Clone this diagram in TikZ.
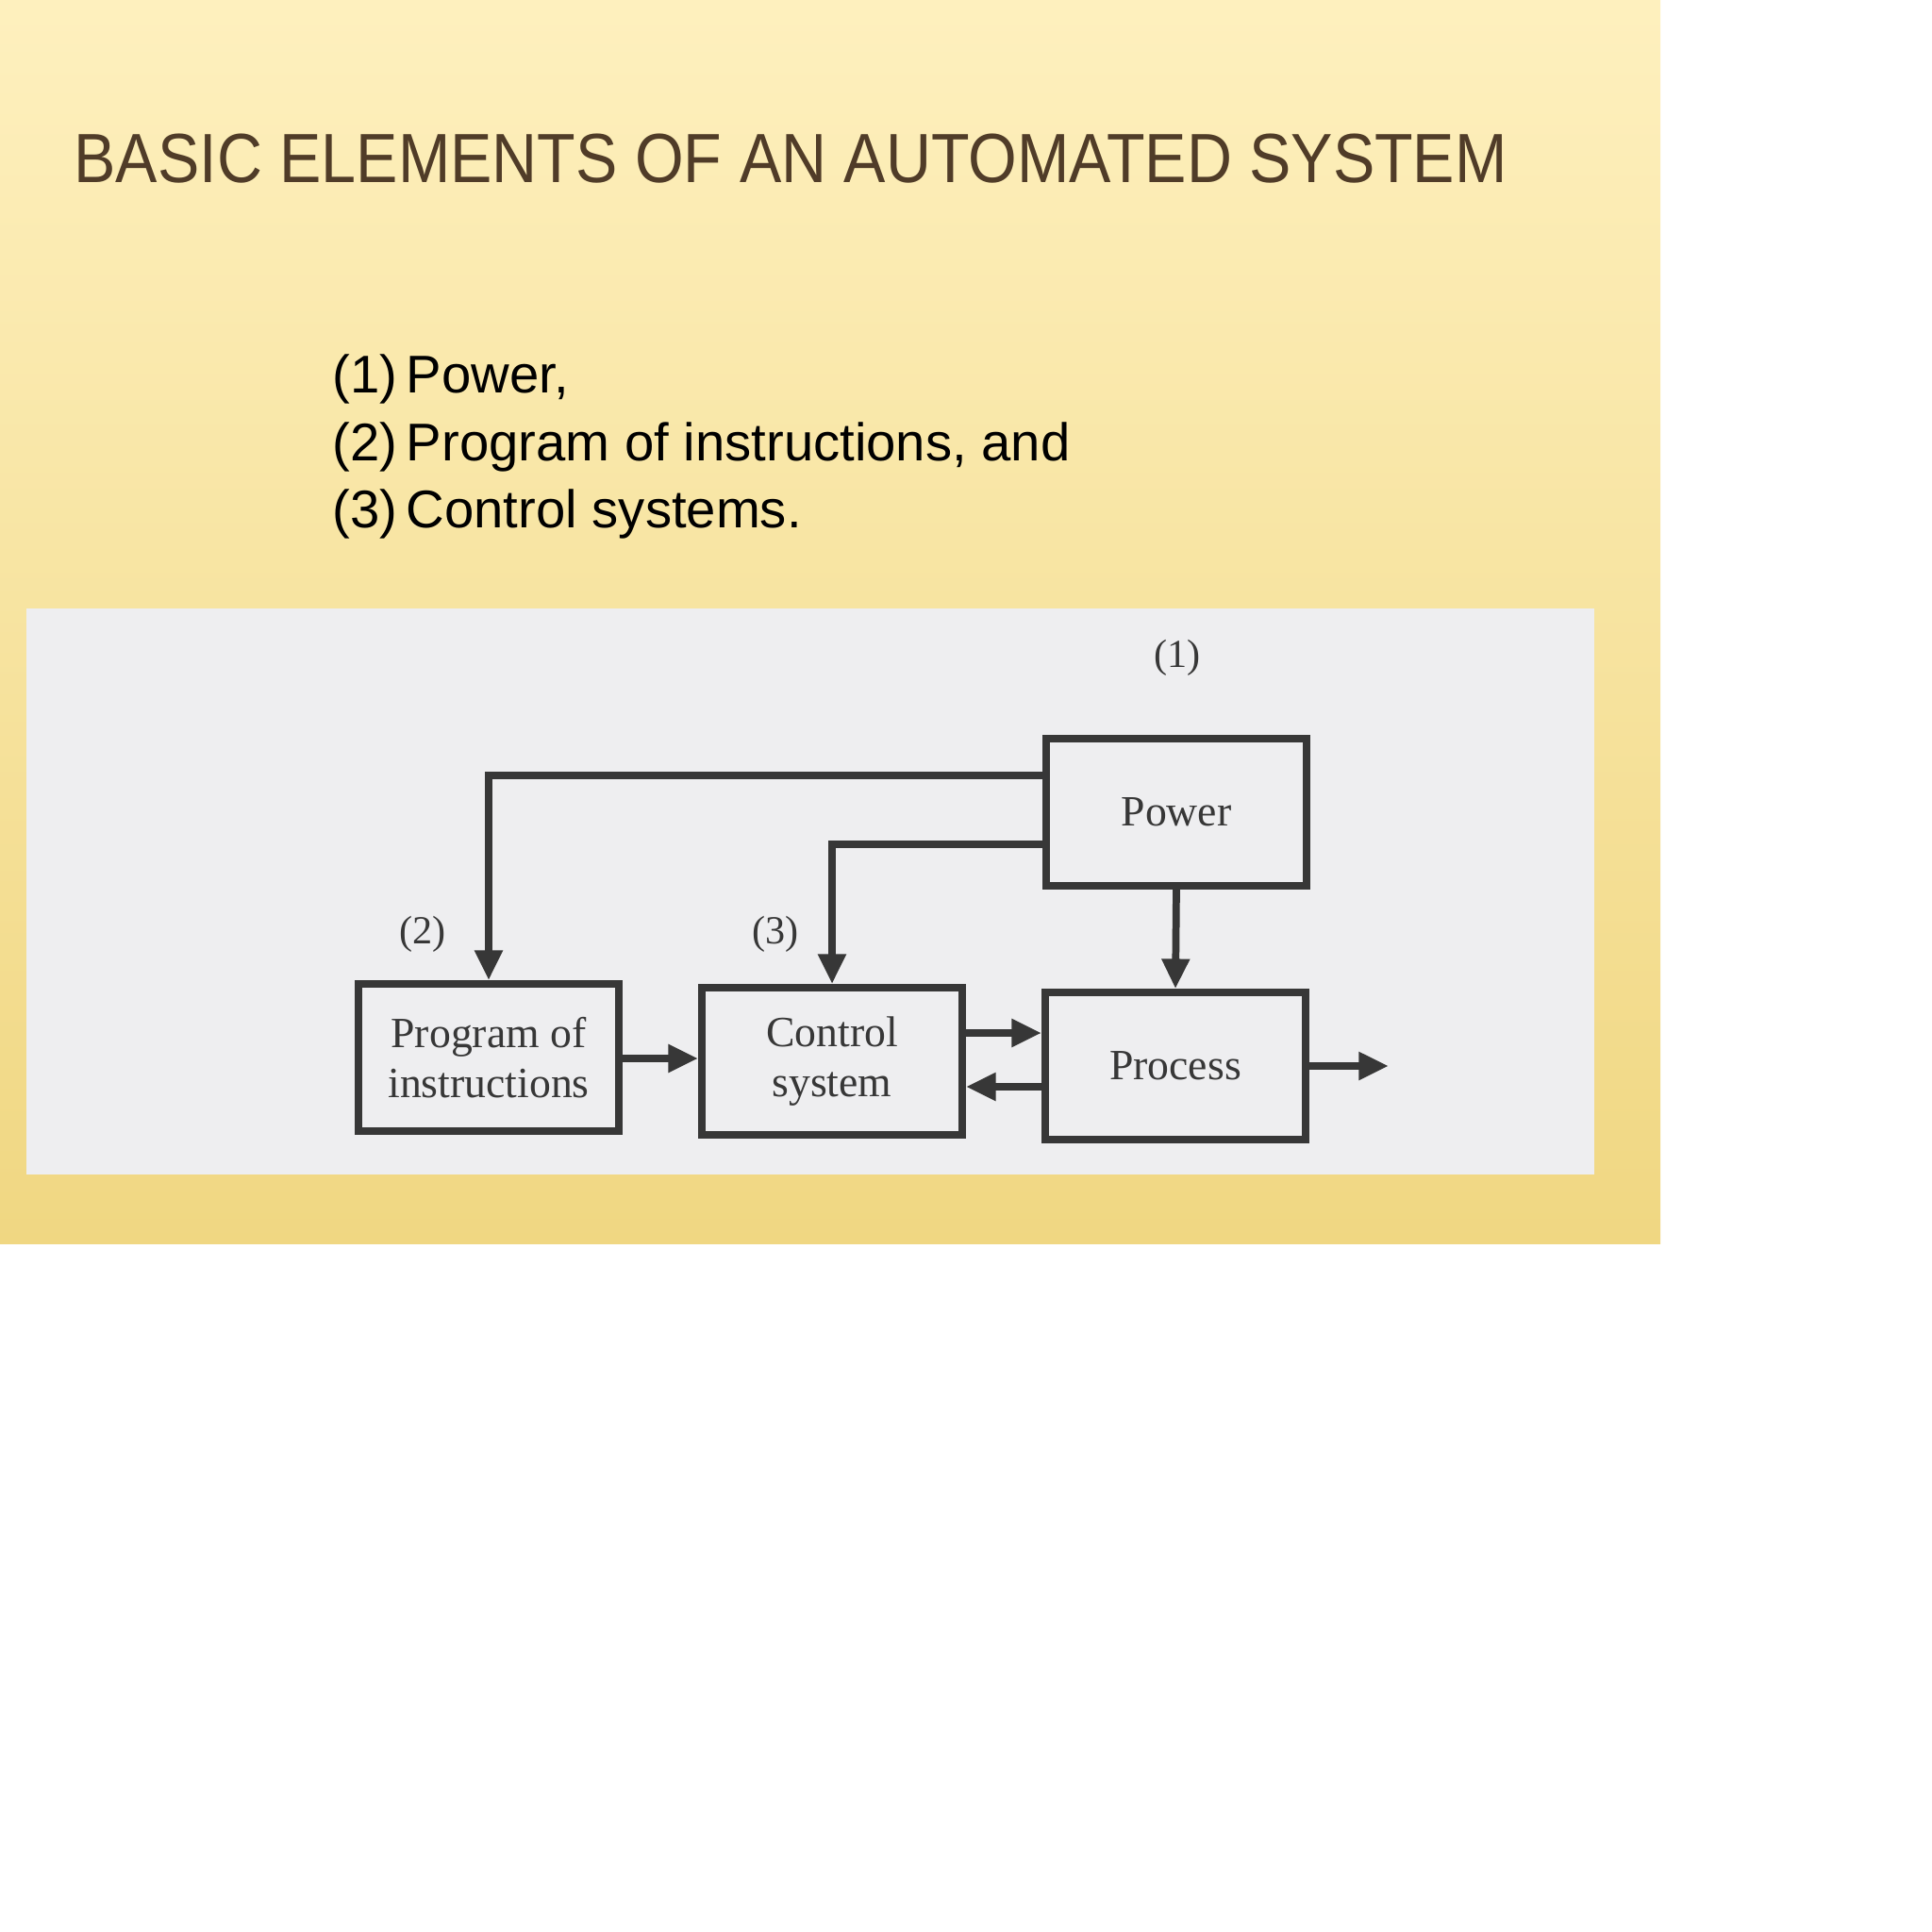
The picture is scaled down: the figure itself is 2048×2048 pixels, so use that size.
\documentclass[tikz,border=0pt]{standalone}
\usepackage{fontspec}
\setmainfont{Liberation Serif}
\newfontfamily\sans{Liberation Sans}
\usetikzlibrary{arrows.meta}
\definecolor{cream}{RGB}{254,240,190}
\definecolor{gold}{RGB}{240,215,130}
\definecolor{panel}{RGB}{238,238,240}
\definecolor{ink}{RGB}{55,55,55}
\definecolor{titlec}{RGB}{80,60,40}
\tikzset{blk/.style={draw=ink,line width=2.2pt,minimum width=2.76cm,minimum height=1.56cm,align=center,font=\fontsize{13}{15}\selectfont,text=ink,inner sep=0pt},
 lab/.style={font=\fontsize{12}{14}\selectfont,text=ink},
 arr/.style={draw=ink,line width=2.2pt,-{Triangle[length=9pt,width=8pt]}},
 item/.style={font=\sans\fontsize{16}{18}\selectfont,anchor=west,inner sep=0pt}}
\begin{document}
\begin{tikzpicture}[x=0.01cm,y=-0.01cm]
\useasboundingbox (0,0) rectangle (2048,2048);
\fill[white] (0,0) rectangle (2048,2048);
\shade[top color=cream,bottom color=gold] (0,0) rectangle (1760,1318);
\node[font=\sans\fontsize{21}{24}\selectfont,text=titlec,anchor=west,inner sep=0pt,xscale=0.9,transform shape] (title) at (78,168) {BASIC ELEMENTS OF AN AUTOMATED SYSTEM};
\node[item] (i1) at (352,402) {(1)\,Power,};
\node[item] (i2) at (352,474) {(2)\,Program of instructions, and};
\node[item] (i3) at (352,545) {(3)\,Control systems.};
\fill[panel] (28,645) rectangle (1690,1245);
\node[blk] (pow) at (1247,861) {Power};
\node[blk] (proc) at (1246,1130) {Process};
\node[blk] (ctl) at (882,1125) {Control\\system};
\node[blk] (prog) at (518,1121) {Program of\\instructions};
\node[lab] (l1) at (1248,697) {(1)};
\node[lab] (l2) at (448,990) {(2)};
\node[lab] (l3) at (822,990) {(3)};
\coordinate (out) at (1472,1130);
\draw[arr] (pow.west |- 0,822) -| (prog.north);
\draw[arr] (pow.west |- 0,895) -| (ctl.north);
\draw[arr] (pow.south) -- (proc.north);
\draw[arr] (prog.east |- 0,1122) -- (ctl.west |- 0,1122);
\draw[arr] (ctl.east |- 0,1095) -- (proc.west |- 0,1095);
\draw[arr] (proc.west |- 0,1152) -- (ctl.east |- 0,1152);
\draw[arr] (proc.east) -- (out);
\end{tikzpicture}
\end{document}
